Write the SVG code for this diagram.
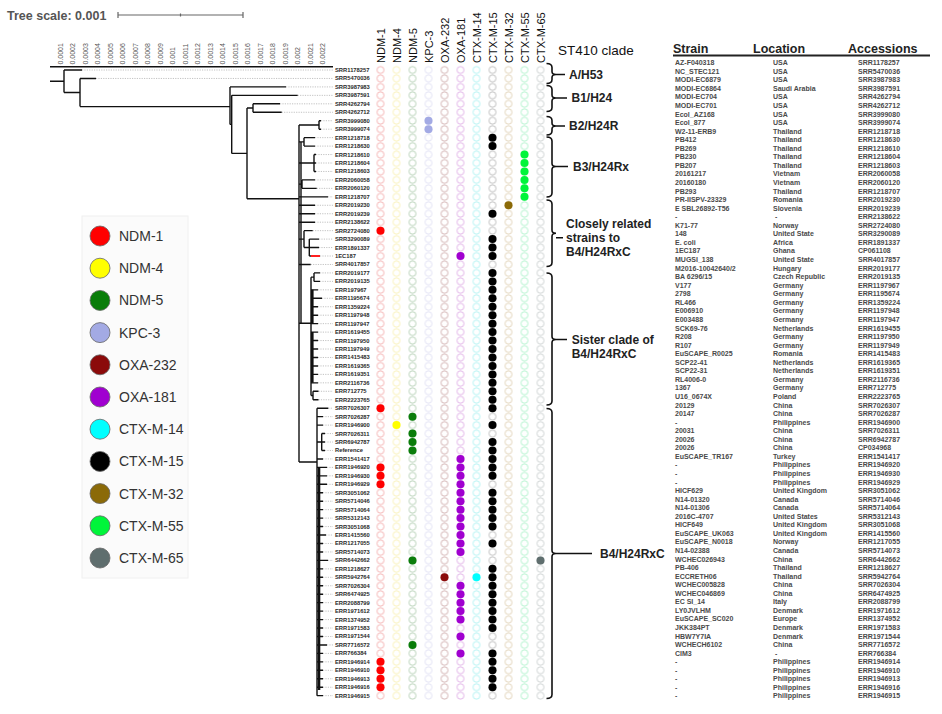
<svg xmlns="http://www.w3.org/2000/svg" width="942" height="714" viewBox="0 0 942 714">
<style>
text{font-family:"Liberation Sans",Arial,sans-serif}
.tr{stroke:#111;stroke-width:1.4;fill:none}
.tk{stroke:#111;stroke-width:2.6;fill:none}
.ld{stroke:#999;stroke-width:0.6;stroke-dasharray:1.2 1.2;fill:none}
.lf{font-size:5.8px;font-weight:bold;fill:#2a2a2a}
.ax{font-size:7px;fill:#555}
.ch{font-size:11px;fill:#111}
.br{stroke:#111;stroke-width:1.6;fill:none}
.cl{font-size:12px;font-weight:bold;fill:#222}
.lg{font-size:14px;fill:#333}
.lc{stroke:#666;stroke-width:0.8}
.tb{font-size:7px;font-weight:bold;fill:#4a4a4a}
.th{font-size:12.5px;font-weight:bold;fill:#222}
.f0{fill:#ff0000}.f1{fill:#ffff00}.f2{fill:#0a7d0a}.f3{fill:#a3aae4}.f4{fill:#8b0a0a}.f5{fill:#a000d0}
.f6{fill:#00ffff}.f7{fill:#000}.f8{fill:#8b6a08}.f9{fill:#00f53a}.f10{fill:#5f6e6e}
</style>
<defs>
<pattern id="p0" x="372.5" y="65.7725" width="16" height="8.455" patternUnits="userSpaceOnUse"><circle cx="8" cy="4.2275" r="3.5" fill="none" stroke="#f2a3a3" stroke-width="0.8"/></pattern>
<pattern id="p1" x="388.5" y="65.7725" width="16" height="8.455" patternUnits="userSpaceOnUse"><circle cx="8" cy="4.2275" r="3.5" fill="none" stroke="#f8eeaa" stroke-width="0.8"/></pattern>
<pattern id="p2" x="404.5" y="65.7725" width="16" height="8.455" patternUnits="userSpaceOnUse"><circle cx="8" cy="4.2275" r="3.5" fill="none" stroke="#a9c8a9" stroke-width="0.8"/></pattern>
<pattern id="p3" x="420.5" y="65.7725" width="16" height="8.455" patternUnits="userSpaceOnUse"><circle cx="8" cy="4.2275" r="3.5" fill="none" stroke="#dcdcf2" stroke-width="0.8"/></pattern>
<pattern id="p4" x="436.5" y="65.7725" width="16" height="8.455" patternUnits="userSpaceOnUse"><circle cx="8" cy="4.2275" r="3.5" fill="none" stroke="#c9a3a3" stroke-width="0.8"/></pattern>
<pattern id="p5" x="452.5" y="65.7725" width="16" height="8.455" patternUnits="userSpaceOnUse"><circle cx="8" cy="4.2275" r="3.5" fill="none" stroke="#dba3e3" stroke-width="0.8"/></pattern>
<pattern id="p6" x="468.5" y="65.7725" width="16" height="8.455" patternUnits="userSpaceOnUse"><circle cx="8" cy="4.2275" r="3.5" fill="none" stroke="#a3f0f0" stroke-width="0.8"/></pattern>
<pattern id="p7" x="484.5" y="65.7725" width="16" height="8.455" patternUnits="userSpaceOnUse"><circle cx="8" cy="4.2275" r="3.5" fill="none" stroke="#b0b0b0" stroke-width="0.8"/></pattern>
<pattern id="p8" x="500.5" y="65.7725" width="16" height="8.455" patternUnits="userSpaceOnUse"><circle cx="8" cy="4.2275" r="3.5" fill="none" stroke="#dccbab" stroke-width="0.8"/></pattern>
<pattern id="p9" x="516.5" y="65.7725" width="16" height="8.455" patternUnits="userSpaceOnUse"><circle cx="8" cy="4.2275" r="3.5" fill="none" stroke="#a3f0c3" stroke-width="0.8"/></pattern>
<pattern id="p10" x="532.5" y="65.7725" width="16" height="8.455" patternUnits="userSpaceOnUse"><circle cx="8" cy="4.2275" r="3.5" fill="none" stroke="#c3c9c9" stroke-width="0.8"/></pattern>
</defs>
<rect width="942" height="714" fill="#fff"/>

<g id="tree-scale">
<text x="7" y="19.5" style="font-size:12.5px;font-weight:bold;fill:#555">Tree scale: 0.001</text>
<path d="M118 15H243M118 12V18M243 12V18M180.5 13.5V16.5" stroke="#666" stroke-width="1.2" fill="none"/>
</g>

<g id="axis">
<path d="M50 66.7H333" stroke="#111" stroke-width="1.6"/>
<g class="ax">
<text transform="translate(62.5,64.5) rotate(-90)">0.0001</text>
<text transform="translate(75,64.5) rotate(-90)">0.0002</text>
<text transform="translate(87.5,64.5) rotate(-90)">0.0003</text>
<text transform="translate(100.1,64.5) rotate(-90)">0.0004</text>
<text transform="translate(112.6,64.5) rotate(-90)">0.0005</text>
<text transform="translate(125.1,64.5) rotate(-90)">0.0006</text>
<text transform="translate(137.6,64.5) rotate(-90)">0.0007</text>
<text transform="translate(150.1,64.5) rotate(-90)">0.0008</text>
<text transform="translate(162.7,64.5) rotate(-90)">0.0009</text>
<text transform="translate(175.2,64.5) rotate(-90)">0.001</text>
<text transform="translate(187.7,64.5) rotate(-90)">0.0011</text>
<text transform="translate(200.2,64.5) rotate(-90)">0.0012</text>
<text transform="translate(212.7,64.5) rotate(-90)">0.0013</text>
<text transform="translate(225.3,64.5) rotate(-90)">0.0014</text>
<text transform="translate(237.8,64.5) rotate(-90)">0.0015</text>
<text transform="translate(250.3,64.5) rotate(-90)">0.0016</text>
<text transform="translate(262.8,64.5) rotate(-90)">0.0017</text>
<text transform="translate(275.3,64.5) rotate(-90)">0.0018</text>
<text transform="translate(287.9,64.5) rotate(-90)">0.0019</text>
<text transform="translate(300.4,64.5) rotate(-90)">0.002</text>
<text transform="translate(312.9,64.5) rotate(-90)">0.0021</text>
<text transform="translate(325.4,64.5) rotate(-90)">0.0022</text>
</g>
</g>

<g id="connectors">
<path class="ld" d="M82 70H333M96 78.46H333M286 86.91H333M297.7 95.37H333M280 103.82H333M281.7 112.28H333M321 120.73H333M321 129.19H333M315 137.64H333M315 146.1H333M316 154.55H333M316 163.01H333M316 171.46H333M315 179.92H333M316.7 188.37H333M328 196.83H333M315 205.28H333M315 213.74H333M315 222.19H333M312.7 230.65H333M319 239.1H333M319 247.56H333M320 256.01H333M310.7 264.47H333M320 272.92H333M320 281.38H333M318 289.83H333M322 298.29H333M318 306.74H333M318 315.2H333M318 323.65H333M318 332.11H333M318 340.56H333M318 349.02H333M318 357.47H333M318 365.93H333M318 374.38H333M318 382.84H333M318.5 391.29H333M318.5 399.75H333M328.3 408.2H333M323 416.66H333M323 425.11H333M325 433.57H333M325 442.02H333M325 450.48H333M323 458.93H333M327 467.39H333M327 475.84H333M327 484.3H333M323 492.75H333M323 501.21H333M323 509.66H333M323 518.12H333M323 526.57H333M326 535.03H333M323 543.48H333M323 551.94H333M328 560.39H333M323 568.85H333M323 577.3H333M323 585.76H333M323 594.21H333M323 602.67H333M323 611.12H333M323 619.58H333M323 628.03H333M323 636.49H333M327 644.94H333M323 653.4H333M323 661.85H333M323 670.31H333M323 678.76H333M323 687.22H333M323 695.67H333"/>
<path class="tr" d="M50 81.3H64M64 70V92.5M64 70H82M64 92.5H80M80 78.46V106.6M80 78.46H96M80 106.6H230M230 86.91V124.4M230 86.91H286M230 124.4H231.7M231.7 95.37V153.4M231.7 95.37H297.7M231.7 153.4H247M247 108.05V198.7M247 108.05H253M253 103.82V112.28M253 103.82H280M253 112.28H281.7M247 198.7H299
M299 124.96V462M301 141.87V323.3
M299 124.96H319M319 120.73V129.19M319 120.73H321M319 129.19H321
M299 141.87H304M304 137.64V146.1M304 137.64H315M304 146.1H315
M299 163.01H314M314 154.55V171.46M314 154.55H316M314 163.01H316M314 171.46H316
M299 184.15H302M302 179.92V188.37M302 179.92H315M302 188.37H316.7M299 196.83H328
M299 205.28H315M299 213.74H315M299 222.19H315
M299 239.1H304M304 230.65V247.56M304 230.65H312.7M304 247.56H309.3M309.3 239.1V256.01M309.3 239.1H319M309.3 247.56H319M309.3 256.01H311
M299 264.47H310.7
M299 323.3H311M311 277.15V395.52M311 277.15H314M314 272.92V281.38M314 272.92H320M314 281.38H320
M311 289.83H318M311 298.29H322M311 306.74H318M311 315.2H318M311 323.65H318M311 332.11H318M311 340.56H318M311 349.02H318M311 357.47H318M311 365.93H318M311 374.38H318M311 382.84H318M311 395.52H313M313 391.29V399.75M313 391.29H318.5M313 399.75H318.5
M299 462H317M317 408.2V695.67M317 408.2H328.3M317 416.66H323M317 425.11H323M317 442.02H321.7M321.7 433.57V450.48M321.7 433.57H325M321.7 442.02H325M321.7 450.48H325
M317 458.93H323M317 467.39H327M317 475.84H327M317 484.3H327M317 492.75H323M317 501.21H323M317 509.66H323M317 518.12H323M317 526.57H323M317 535.03H326M317 543.48H323M317 551.94H323M317 560.39H328M317 568.85H323M317 577.3H323M317 585.76H323M317 594.21H323M317 602.67H323M317 611.12H323M317 619.58H323M317 628.03H323M317 636.49H323M317 644.94H327M317 653.4H323M317 661.85H323M317 670.31H323M317 678.76H323M317 687.22H323M317 695.67H323"/>
<path class="tk" d="M312.3 289.83V323.65M312.3 332.11V382.84M319 467V690"/>
<path d="M311 256.01H320" stroke="#ff2020" stroke-width="2"/>
</g>

<g id="leaf-labels">
<text class="lf"><tspan x="335" y="72">SRR1178257</tspan><tspan x="335" y="80.46">SRR5470036</tspan><tspan x="335" y="88.91">SRR3987983</tspan><tspan x="335" y="97.37">SRR3987591</tspan><tspan x="335" y="105.82">SRR4262794</tspan><tspan x="335" y="114.28">SRR4262712</tspan><tspan x="335" y="122.73">SRR3999080</tspan><tspan x="335" y="131.19">SRR3999074</tspan><tspan x="335" y="139.64">ERR1218718</tspan><tspan x="335" y="148.1">ERR1218630</tspan><tspan x="335" y="156.55">ERR1218610</tspan><tspan x="335" y="165.01">ERR1218604</tspan><tspan x="335" y="173.46">ERR1218603</tspan><tspan x="335" y="181.92">ERR2060058</tspan><tspan x="335" y="190.37">ERR2060120</tspan><tspan x="335" y="198.83">ERR1218707</tspan><tspan x="335" y="207.28">ERR2019230</tspan><tspan x="335" y="215.74">ERR2019239</tspan><tspan x="335" y="224.19">ERR2138622</tspan><tspan x="335" y="232.65">SRR2724080</tspan><tspan x="335" y="241.1">SRR3290089</tspan><tspan x="335" y="249.56">ERR1891337</tspan><tspan x="335" y="258.01">1EC187</tspan><tspan x="335" y="266.47">SRR4017857</tspan><tspan x="335" y="274.92">ERR2019177</tspan><tspan x="335" y="283.38">ERR2019135</tspan><tspan x="335" y="291.83">ERR197967</tspan><tspan x="335" y="300.29">ERR1195674</tspan><tspan x="335" y="308.74">ERR1359224</tspan><tspan x="335" y="317.2">ERR1197948</tspan><tspan x="335" y="325.65">ERR1197947</tspan><tspan x="335" y="334.11">ERR1619455</tspan><tspan x="335" y="342.56">ERR1197950</tspan><tspan x="335" y="351.02">ERR1197949</tspan><tspan x="335" y="359.47">ERR1415483</tspan><tspan x="335" y="367.93">ERR1619365</tspan><tspan x="335" y="376.38">ERR1619351</tspan><tspan x="335" y="384.84">ERR2116736</tspan><tspan x="335" y="393.29">ERR712775</tspan><tspan x="335" y="401.75">ERR2223765</tspan><tspan x="335" y="410.2">SRR7026307</tspan><tspan x="335" y="418.66">SRR7026287</tspan><tspan x="335" y="427.11">ERR1946900</tspan><tspan x="335" y="435.57">SRR7026311</tspan><tspan x="335" y="444.02">SRR6942787</tspan><tspan x="335" y="452.48">Reference</tspan><tspan x="335" y="460.93">ERR1541417</tspan><tspan x="335" y="469.39">ERR1946920</tspan><tspan x="335" y="477.84">ERR1946930</tspan><tspan x="335" y="486.3">ERR1946929</tspan><tspan x="335" y="494.75">SRR3051062</tspan><tspan x="335" y="503.21">SRR5714046</tspan><tspan x="335" y="511.66">SRR5714064</tspan><tspan x="335" y="520.12">SRR5312143</tspan><tspan x="335" y="528.57">SRR3051068</tspan><tspan x="335" y="537.03">ERR1415560</tspan><tspan x="335" y="545.48">ERR1217055</tspan><tspan x="335" y="553.94">SRR5714073</tspan><tspan x="335" y="562.39">SRR6442662</tspan><tspan x="335" y="570.85">ERR1218627</tspan><tspan x="335" y="579.3">SRR5942764</tspan><tspan x="335" y="587.76">SRR7026304</tspan><tspan x="335" y="596.21">SRR6474925</tspan><tspan x="335" y="604.67">ERR2088799</tspan><tspan x="335" y="613.12">ERR1971612</tspan><tspan x="335" y="621.58">ERR1374952</tspan><tspan x="335" y="630.03">ERR1971583</tspan><tspan x="335" y="638.49">ERR1971544</tspan><tspan x="335" y="646.94">SRR7716572</tspan><tspan x="335" y="655.4">ERR766384</tspan><tspan x="335" y="663.85">ERR1946914</tspan><tspan x="335" y="672.31">ERR1946910</tspan><tspan x="335" y="680.76">ERR1946913</tspan><tspan x="335" y="689.22">ERR1946916</tspan><tspan x="335" y="697.67">ERR1946915</tspan></text>
</g>

<g id="column-headers" class="ch">
<text transform="translate(384.5,63) rotate(-90)">NDM-1</text>
<text transform="translate(400.5,63) rotate(-90)">NDM-4</text>
<text transform="translate(416.5,63) rotate(-90)">NDM-5</text>
<text transform="translate(432.5,63) rotate(-90)">KPC-3</text>
<text transform="translate(448.5,63) rotate(-90)">OXA-232</text>
<text transform="translate(464.5,63) rotate(-90)">OXA-181</text>
<text transform="translate(480.5,63) rotate(-90)">CTX-M-14</text>
<text transform="translate(496.5,63) rotate(-90)">CTX-M-15</text>
<text transform="translate(512.5,63) rotate(-90)">CTX-M-32</text>
<text transform="translate(528.5,63) rotate(-90)">CTX-M-55</text>
<text transform="translate(544.5,63) rotate(-90)">CTX-M-65</text>
</g>

<g id="matrix">
<rect x="372.5" y="65.7725" width="16" height="634.125" fill="url(#p0)"/>
<rect x="388.5" y="65.7725" width="16" height="634.125" fill="url(#p1)"/>
<rect x="404.5" y="65.7725" width="16" height="634.125" fill="url(#p2)"/>
<rect x="420.5" y="65.7725" width="16" height="634.125" fill="url(#p3)"/>
<rect x="436.5" y="65.7725" width="16" height="634.125" fill="url(#p4)"/>
<rect x="452.5" y="65.7725" width="16" height="634.125" fill="url(#p5)"/>
<rect x="468.5" y="65.7725" width="16" height="634.125" fill="url(#p6)"/>
<rect x="484.5" y="65.7725" width="16" height="634.125" fill="url(#p7)"/>
<rect x="500.5" y="65.7725" width="16" height="634.125" fill="url(#p8)"/>
<rect x="516.5" y="65.7725" width="16" height="634.125" fill="url(#p9)"/>
<rect x="532.5" y="65.7725" width="16" height="634.125" fill="url(#p10)"/>
<g class="f0"><circle cx="380.5" cy="230.65" r="4"/><circle cx="380.5" cy="408.2" r="4"/><circle cx="380.5" cy="467.39" r="4"/><circle cx="380.5" cy="475.84" r="4"/><circle cx="380.5" cy="484.3" r="4"/><circle cx="380.5" cy="661.85" r="4"/><circle cx="380.5" cy="670.31" r="4"/><circle cx="380.5" cy="678.76" r="4"/><circle cx="380.5" cy="687.22" r="4"/></g>
<g class="f1"><circle cx="396.5" cy="425.11" r="4"/></g>
<g class="f2"><circle cx="412.5" cy="416.66" r="4"/><circle cx="412.5" cy="433.57" r="4"/><circle cx="412.5" cy="442.02" r="4"/><circle cx="412.5" cy="450.48" r="4"/><circle cx="412.5" cy="560.39" r="4"/><circle cx="412.5" cy="644.94" r="4"/></g>
<g class="f3"><circle cx="428.5" cy="120.73" r="4"/><circle cx="428.5" cy="129.19" r="4"/></g>
<g class="f4"><circle cx="444.5" cy="577.3" r="4"/></g>
<g class="f5"><circle cx="460.5" cy="256.01" r="4"/><circle cx="460.5" cy="458.93" r="4"/><circle cx="460.5" cy="467.39" r="4"/><circle cx="460.5" cy="475.84" r="4"/><circle cx="460.5" cy="484.3" r="4"/><circle cx="460.5" cy="492.75" r="4"/><circle cx="460.5" cy="501.21" r="4"/><circle cx="460.5" cy="509.66" r="4"/><circle cx="460.5" cy="518.12" r="4"/><circle cx="460.5" cy="526.57" r="4"/><circle cx="460.5" cy="535.03" r="4"/><circle cx="460.5" cy="543.48" r="4"/><circle cx="460.5" cy="551.94" r="4"/><circle cx="460.5" cy="585.76" r="4"/><circle cx="460.5" cy="594.21" r="4"/><circle cx="460.5" cy="602.67" r="4"/><circle cx="460.5" cy="611.12" r="4"/><circle cx="460.5" cy="619.58" r="4"/><circle cx="460.5" cy="636.49" r="4"/><circle cx="460.5" cy="653.4" r="4"/></g>
<g class="f6"><circle cx="476.5" cy="577.3" r="4"/></g>
<g class="f7"><circle cx="492.5" cy="137.64" r="4"/><circle cx="492.5" cy="146.1" r="4"/><circle cx="492.5" cy="213.74" r="4"/><circle cx="492.5" cy="239.1" r="4"/><circle cx="492.5" cy="247.56" r="4"/><circle cx="492.5" cy="256.01" r="4"/><circle cx="492.5" cy="272.92" r="4"/><circle cx="492.5" cy="281.38" r="4"/><circle cx="492.5" cy="289.83" r="4"/><circle cx="492.5" cy="298.29" r="4"/><circle cx="492.5" cy="306.74" r="4"/><circle cx="492.5" cy="315.2" r="4"/><circle cx="492.5" cy="323.65" r="4"/><circle cx="492.5" cy="332.11" r="4"/><circle cx="492.5" cy="340.56" r="4"/><circle cx="492.5" cy="349.02" r="4"/><circle cx="492.5" cy="357.47" r="4"/><circle cx="492.5" cy="365.93" r="4"/><circle cx="492.5" cy="374.38" r="4"/><circle cx="492.5" cy="382.84" r="4"/><circle cx="492.5" cy="391.29" r="4"/><circle cx="492.5" cy="399.75" r="4"/><circle cx="492.5" cy="408.2" r="4"/><circle cx="492.5" cy="425.11" r="4"/><circle cx="492.5" cy="442.02" r="4"/><circle cx="492.5" cy="450.48" r="4"/><circle cx="492.5" cy="458.93" r="4"/><circle cx="492.5" cy="467.39" r="4"/><circle cx="492.5" cy="475.84" r="4"/><circle cx="492.5" cy="492.75" r="4"/><circle cx="492.5" cy="501.21" r="4"/><circle cx="492.5" cy="509.66" r="4"/><circle cx="492.5" cy="518.12" r="4"/><circle cx="492.5" cy="526.57" r="4"/><circle cx="492.5" cy="543.48" r="4"/><circle cx="492.5" cy="568.85" r="4"/><circle cx="492.5" cy="577.3" r="4"/><circle cx="492.5" cy="585.76" r="4"/><circle cx="492.5" cy="594.21" r="4"/><circle cx="492.5" cy="602.67" r="4"/><circle cx="492.5" cy="611.12" r="4"/><circle cx="492.5" cy="619.58" r="4"/><circle cx="492.5" cy="628.03" r="4"/><circle cx="492.5" cy="653.4" r="4"/><circle cx="492.5" cy="661.85" r="4"/><circle cx="492.5" cy="670.31" r="4"/><circle cx="492.5" cy="678.76" r="4"/><circle cx="492.5" cy="687.22" r="4"/></g>
<g class="f8"><circle cx="508.5" cy="205.28" r="4"/></g>
<g class="f9"><circle cx="524.5" cy="154.55" r="4"/><circle cx="524.5" cy="163.01" r="4"/><circle cx="524.5" cy="171.46" r="4"/><circle cx="524.5" cy="179.92" r="4"/><circle cx="524.5" cy="188.37" r="4"/><circle cx="524.5" cy="196.83" r="4"/></g>
<g class="f10"><circle cx="540.5" cy="560.39" r="4"/></g>
</g>

<g id="clades">
<text x="558" y="54.5" style="font-size:13.5px;fill:#111">ST410 clade</text>
<g id="clade-A">
<path class="br" d="M546.5 63.5Q552 63.5 552 67.5V71.5Q552 74.5 556 74.5Q552 74.5 552 77.5V79.5Q552 83.5 546.5 83.5M556 74.5H565"/>
<text class="cl" x="569" y="78.7">A/H53</text>
</g>
<g id="clade-B1">
<path class="br" d="M546.5 85.5Q552 85.5 552 89.5V95Q552 98 556 98Q552 98 552 101V107.5Q552 111.5 546.5 111.5M556 98H567"/>
<text class="cl" x="571.5" y="102.2">B1/H24</text>
</g>
<g id="clade-B2">
<path class="br" d="M546.5 116.5Q552 116.5 552 120.5V123Q552 126 556 126Q552 126 552 129V131Q552 135 546.5 135M556 126H565"/>
<text class="cl" x="569" y="130.2">B2/H24R</text>
</g>
<g id="clade-B3">
<path class="br" d="M546.5 137Q552 137 552 141V163.5Q552 166.5 556 166.5Q552 166.5 552 169.5V193Q552 197 546.5 197M556 166.5H568"/>
<text class="cl" x="573" y="170.7">B3/H24Rx</text>
</g>
<g id="clade-close">
<path class="br" d="M546.5 200Q552 200 552 204V230.3Q552 233.3 556 233.3Q552 233.3 552 236.3V262.5Q552 266.5 546.5 266.5M556 237.7H563"/>
<text class="cl"><tspan x="566" y="227.5">Closely related</tspan><tspan x="566" y="241.9">strains to</tspan><tspan x="566" y="255.9">B4/H24RxC</tspan></text>
</g>
<g id="clade-sister">
<path class="br" d="M546.5 273Q552 273 552 277V336.5Q552 339.5 556 339.5Q552 339.5 552 342.5V401Q552 405 546.5 405M556 339.5H567"/>
<text class="cl"><tspan x="571.7" y="344">Sister clade of</tspan><tspan x="571.7" y="357.5">B4/H24RxC</tspan></text>
</g>
<g id="clade-B4">
<path class="br" d="M546.5 408.5Q552 408.5 552 412.5V550.5Q552 553.5 556 553.5Q552 553.5 552 556.5V694.5Q552 698.5 546.5 698.5M556 553.5H592"/>
<text class="cl" x="600" y="557.7">B4/H24RxC</text>
</g>
</g>

<g id="legend">
<rect x="82" y="216" width="106" height="362" fill="#fbfbfb" stroke="#f0f0f0"/>
<g class="lc">
<circle class="f0" cx="100" cy="236" r="10"/>
<circle class="f1" cx="100" cy="268.2" r="10"/>
<circle class="f2" cx="100" cy="300.4" r="10"/>
<circle class="f3" cx="100" cy="332.6" r="10"/>
<circle class="f4" cx="100" cy="364.8" r="10"/>
<circle class="f5" cx="100" cy="397" r="10"/>
<circle class="f6" cx="100" cy="429.2" r="10"/>
<circle class="f7" cx="100" cy="461.4" r="10"/>
<circle class="f8" cx="100" cy="493.6" r="10"/>
<circle class="f9" cx="100" cy="525.8" r="10"/>
<circle class="f10" cx="100" cy="558" r="10"/>
</g>
<g class="lg">
<text x="119" y="241">NDM-1</text>
<text x="119" y="273.2">NDM-4</text>
<text x="119" y="305.4">NDM-5</text>
<text x="119" y="337.6">KPC-3</text>
<text x="119" y="369.8">OXA-232</text>
<text x="119" y="402">OXA-181</text>
<text x="119" y="434.2">CTX-M-14</text>
<text x="119" y="466.4">CTX-M-15</text>
<text x="119" y="498.6">CTX-M-32</text>
<text x="119" y="530.8">CTX-M-55</text>
<text x="119" y="563">CTX-M-65</text>
</g>
</g>

<g id="table">
<text class="th" x="673" y="53">Strain</text>
<text class="th" x="753" y="53">Location</text>
<text class="th" x="848" y="53">Accessions</text>
<path d="M673 55.5H930" stroke="#222" stroke-width="1.8"/>
<g class="tb">
<text y="65.2"><tspan x="675">AZ-F040318</tspan><tspan x="773">USA</tspan><tspan x="858">SRR1178257</tspan></text>
<text y="73.76"><tspan x="675">NC_STEC121</tspan><tspan x="773">USA</tspan><tspan x="858">SRR5470036</tspan></text>
<text y="82.32"><tspan x="675">MODI-EC6879</tspan><tspan x="773">USA</tspan><tspan x="858">SRR3987983</tspan></text>
<text y="90.87"><tspan x="675">MODI-EC6864</tspan><tspan x="773">Saudi Arabia</tspan><tspan x="858">SRR3987591</tspan></text>
<text y="99.43"><tspan x="675">MODI-EC704</tspan><tspan x="773">USA</tspan><tspan x="858">SRR4262794</tspan></text>
<text y="107.99"><tspan x="675">MODI-EC701</tspan><tspan x="773">USA</tspan><tspan x="858">SRR4262712</tspan></text>
<text y="116.55"><tspan x="675">Ecol_AZ168</tspan><tspan x="773">USA</tspan><tspan x="858">SRR3999080</tspan></text>
<text y="125.11"><tspan x="675">Ecol_877</tspan><tspan x="773">USA</tspan><tspan x="858">SRR3999074</tspan></text>
<text y="133.66"><tspan x="675">W2-11-ERB9</tspan><tspan x="773">Thailand</tspan><tspan x="858">ERR1218718</tspan></text>
<text y="142.22"><tspan x="675">PB412</tspan><tspan x="773">Thailand</tspan><tspan x="858">ERR1218630</tspan></text>
<text y="150.78"><tspan x="675">PB269</tspan><tspan x="773">Thailand</tspan><tspan x="858">ERR1218610</tspan></text>
<text y="159.34"><tspan x="675">PB230</tspan><tspan x="773">Thailand</tspan><tspan x="858">ERR1218604</tspan></text>
<text y="167.9"><tspan x="675">PB207</tspan><tspan x="773">Thailand</tspan><tspan x="858">ERR1218603</tspan></text>
<text y="176.45"><tspan x="675">20161217</tspan><tspan x="773">Vietnam</tspan><tspan x="858">ERR2060058</tspan></text>
<text y="185.01"><tspan x="675">20160180</tspan><tspan x="773">Vietnam</tspan><tspan x="858">ERR2060120</tspan></text>
<text y="193.57"><tspan x="675">PB293</tspan><tspan x="773">Thailand</tspan><tspan x="858">ERR1218707</tspan></text>
<text y="202.13"><tspan x="675">PR-IISPV-23329</tspan><tspan x="773">Romania</tspan><tspan x="858">ERR2019230</tspan></text>
<text y="210.69"><tspan x="675">E SBL26892-T56</tspan><tspan x="773">Slovenia</tspan><tspan x="858">ERR2019239</tspan></text>
<text y="219.24"><tspan x="675">-</tspan><tspan x="775">-</tspan><tspan x="858">ERR2138622</tspan></text>
<text y="227.8"><tspan x="675">K71-77</tspan><tspan x="773">Norway</tspan><tspan x="858">SRR2724080</tspan></text>
<text y="236.36"><tspan x="675">148</tspan><tspan x="773">United State</tspan><tspan x="858">SRR3290089</tspan></text>
<text y="244.92"><tspan x="675">E. coli</tspan><tspan x="773">Africa</tspan><tspan x="858">ERR1891337</tspan></text>
<text y="253.48"><tspan x="675">1EC187</tspan><tspan x="773">Ghana</tspan><tspan x="858">CP061108</tspan></text>
<text y="262.03"><tspan x="675">MUGSI_138</tspan><tspan x="773">United State</tspan><tspan x="858">SRR4017857</tspan></text>
<text y="270.59"><tspan x="675">M2016-10042640/2</tspan><tspan x="773">Hungary</tspan><tspan x="858">ERR2019177</tspan></text>
<text y="279.15"><tspan x="675">BA 6296/15</tspan><tspan x="773">Czech Republic</tspan><tspan x="858">ERR2019135</tspan></text>
<text y="287.71"><tspan x="675">V177</tspan><tspan x="773">Germany</tspan><tspan x="858">ERR1197967</tspan></text>
<text y="296.27"><tspan x="675">2798</tspan><tspan x="773">Germany</tspan><tspan x="858">ERR1195674</tspan></text>
<text y="304.82"><tspan x="675">RL466</tspan><tspan x="773">Germany</tspan><tspan x="858">ERR1359224</tspan></text>
<text y="313.38"><tspan x="675">E006910</tspan><tspan x="773">Germany</tspan><tspan x="858">ERR1197948</tspan></text>
<text y="321.94"><tspan x="675">E003488</tspan><tspan x="773">Germany</tspan><tspan x="858">ERR1197947</tspan></text>
<text y="330.5"><tspan x="675">SCK69-76</tspan><tspan x="773">Netherlands</tspan><tspan x="858">ERR1619455</tspan></text>
<text y="339.06"><tspan x="675">R208</tspan><tspan x="773">Germany</tspan><tspan x="858">ERR1197950</tspan></text>
<text y="347.61"><tspan x="675">R107</tspan><tspan x="773">Germany</tspan><tspan x="858">ERR1197949</tspan></text>
<text y="356.17"><tspan x="675">EuSCAPE_R0025</tspan><tspan x="773">Romania</tspan><tspan x="858">ERR1415483</tspan></text>
<text y="364.73"><tspan x="675">SCP22-41</tspan><tspan x="773">Netherlands</tspan><tspan x="858">ERR1619365</tspan></text>
<text y="373.29"><tspan x="675">SCP22-31</tspan><tspan x="773">Netherlands</tspan><tspan x="858">ERR1619351</tspan></text>
<text y="381.85"><tspan x="675">RL4006-0</tspan><tspan x="773">Germany</tspan><tspan x="858">ERR2116736</tspan></text>
<text y="390.4"><tspan x="675">1367</tspan><tspan x="773">Germany</tspan><tspan x="858">ERR712775</tspan></text>
<text y="398.96"><tspan x="675">U16_0674X</tspan><tspan x="773">Poland</tspan><tspan x="858">ERR2223765</tspan></text>
<text y="407.52"><tspan x="675">20129</tspan><tspan x="773">China</tspan><tspan x="858">SRR7026307</tspan></text>
<text y="416.08"><tspan x="675">20147</tspan><tspan x="773">China</tspan><tspan x="858">SRR7026287</tspan></text>
<text y="424.64"><tspan x="675">-</tspan><tspan x="773">Philippines</tspan><tspan x="858">ERR1946900</tspan></text>
<text y="433.19"><tspan x="675">20031</tspan><tspan x="773">China</tspan><tspan x="858">SRR7026311</tspan></text>
<text y="441.75"><tspan x="675">20026</tspan><tspan x="773">China</tspan><tspan x="858">SRR6942787</tspan></text>
<text y="450.31"><tspan x="675">20026</tspan><tspan x="773">China</tspan><tspan x="858">CP034968</tspan></text>
<text y="458.87"><tspan x="675">EuSCAPE_TR167</tspan><tspan x="773">Turkey</tspan><tspan x="858">ERR1541417</tspan></text>
<text y="467.43"><tspan x="675">-</tspan><tspan x="773">Philippines</tspan><tspan x="858">ERR1946920</tspan></text>
<text y="475.98"><tspan x="675">-</tspan><tspan x="773">Philippines</tspan><tspan x="858">ERR1946930</tspan></text>
<text y="484.54"><tspan x="675">-</tspan><tspan x="773">Philippines</tspan><tspan x="858">ERR1946929</tspan></text>
<text y="493.1"><tspan x="675">HICF629</tspan><tspan x="773">United Kingdom</tspan><tspan x="858">SRR3051062</tspan></text>
<text y="501.66"><tspan x="675">N14-01320</tspan><tspan x="773">Canada</tspan><tspan x="858">SRR5714046</tspan></text>
<text y="510.22"><tspan x="675">N14-01306</tspan><tspan x="773">Canada</tspan><tspan x="858">SRR5714064</tspan></text>
<text y="518.77"><tspan x="675">2016C-4707</tspan><tspan x="773">United  States</tspan><tspan x="858">SRR5312143</tspan></text>
<text y="527.33"><tspan x="675">HICF649</tspan><tspan x="773">United Kingdom</tspan><tspan x="858">SRR3051068</tspan></text>
<text y="535.89"><tspan x="675">EuSCAPE_UK063</tspan><tspan x="773">United Kingdom</tspan><tspan x="858">ERR1415560</tspan></text>
<text y="544.45"><tspan x="675">EuSCAPE_N0018</tspan><tspan x="773">Norway</tspan><tspan x="858">ERR1217055</tspan></text>
<text y="553.01"><tspan x="675">N14-02388</tspan><tspan x="773">Canada</tspan><tspan x="858">SRR5714073</tspan></text>
<text y="561.56"><tspan x="675">WCHEC026943</tspan><tspan x="773">China</tspan><tspan x="858">SRR6442662</tspan></text>
<text y="570.12"><tspan x="675">PB-406</tspan><tspan x="773">Thailand</tspan><tspan x="858">ERR1218627</tspan></text>
<text y="578.68"><tspan x="675">ECCRETH06</tspan><tspan x="773">Thailand</tspan><tspan x="858">SRR5942764</tspan></text>
<text y="587.24"><tspan x="675">WCHEC005828</tspan><tspan x="773">China</tspan><tspan x="858">SRR7026304</tspan></text>
<text y="595.8"><tspan x="675">WCHEC046869</tspan><tspan x="773">China</tspan><tspan x="858">SRR6474925</tspan></text>
<text y="604.35"><tspan x="675">EC SI_14</tspan><tspan x="773">Italy</tspan><tspan x="858">ERR2088799</tspan></text>
<text y="612.91"><tspan x="675">LY0JVLHM</tspan><tspan x="773">Denmark</tspan><tspan x="858">ERR1971612</tspan></text>
<text y="621.47"><tspan x="675">EuSCAPE_SC020</tspan><tspan x="773">Europe</tspan><tspan x="858">ERR1374952</tspan></text>
<text y="630.03"><tspan x="675">JKK384PT</tspan><tspan x="773">Denmark</tspan><tspan x="858">ERR1971583</tspan></text>
<text y="638.59"><tspan x="675">HBW7Y7IA</tspan><tspan x="773">Denmark</tspan><tspan x="858">ERR1971544</tspan></text>
<text y="647.14"><tspan x="675">WCHECH6102</tspan><tspan x="773">China</tspan><tspan x="858">SRR7716572</tspan></text>
<text y="655.7"><tspan x="675">CIM3</tspan><tspan x="775">-</tspan><tspan x="858">ERR766384</tspan></text>
<text y="664.26"><tspan x="675">-</tspan><tspan x="773">Philippines</tspan><tspan x="858">ERR1946914</tspan></text>
<text y="672.82"><tspan x="675">-</tspan><tspan x="773">Philippines</tspan><tspan x="858">ERR1946910</tspan></text>
<text y="681.38"><tspan x="675">-</tspan><tspan x="773">Philippines</tspan><tspan x="858">ERR1946913</tspan></text>
<text y="689.93"><tspan x="675">-</tspan><tspan x="773">Philippines</tspan><tspan x="858">ERR1946916</tspan></text>
<text y="698.49"><tspan x="675">-</tspan><tspan x="773">Philippines</tspan><tspan x="858">ERR1946915</tspan></text>
</g>
</g>
</svg>
